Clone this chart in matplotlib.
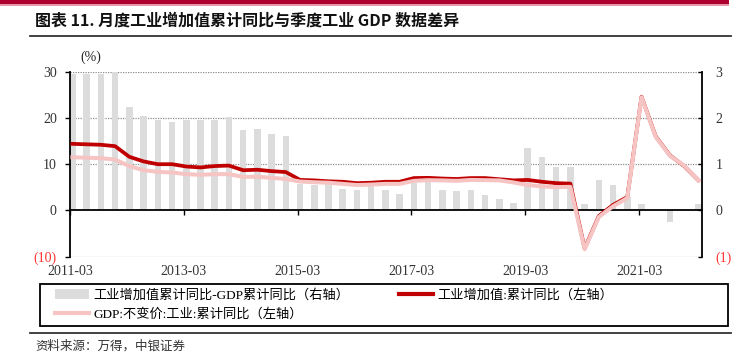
import matplotlib
matplotlib.use('Agg')
import matplotlib.pyplot as plt
import numpy as np
from matplotlib.patches import Rectangle, Patch
from matplotlib.lines import Line2D

# ---------------- data ----------------
quarters = ["2011-03", "2011-06", "2011-09", "2011-12", "2012-03", "2012-06", "2012-09", "2012-12",
            "2013-03", "2013-06", "2013-09", "2013-12", "2014-03", "2014-06", "2014-09", "2014-12",
            "2015-03", "2015-06", "2015-09", "2015-12", "2016-03", "2016-06", "2016-09", "2016-12",
            "2017-03", "2017-06", "2017-09", "2017-12", "2018-03", "2018-06", "2018-09", "2018-12",
            "2019-03", "2019-06", "2019-09", "2019-12", "2020-03", "2020-06", "2020-09", "2020-12",
            "2021-03", "2021-06", "2021-09", "2021-12", "2022-03"]

# 工业增加值累计同比-GDP累计同比（右轴）
diff_right = [2.95, 2.95, 2.95, 3.00, 2.24, 2.04, 1.96, 1.92,
              1.96, 1.96, 1.96, 2.01, 1.75, 1.76, 1.65, 1.61,
              0.58, 0.55, 0.58, 0.46, 0.45, 0.57, 0.45, 0.36,
              0.59, 0.65, 0.45, 0.41, 0.45, 0.34, 0.24, 0.16,
              1.35, 1.15, 0.95, 0.95, 0.15, 0.65, 0.54, 0.30,
              0.15, 0.00, -0.24, 0.00, 0.15]

# 工业增加值:累计同比（左轴）
iva_cum = [14.4, 14.3, 14.2, 13.9, 11.6, 10.6, 10.0, 10.0,
           9.5, 9.3, 9.6, 9.7, 8.7, 8.8, 8.5, 8.3,
           6.6, 6.5, 6.3, 6.2, 5.9, 6.0, 6.2, 6.2,
           7.0, 7.05, 6.9, 6.8, 7.0, 7.0, 6.75, 6.5,
           6.6, 6.2, 5.9, 5.8, -8.2, -1.2, 1.2, 2.9,
           24.6, 16.0, 11.9, 9.6, 6.5]

# GDP:不变价:工业:累计同比（左轴）
gdp_ind_cum = [11.5, 11.4, 11.3, 11.0, 9.6, 8.7, 8.35, 8.2,
               7.85, 7.7, 7.85, 7.85, 7.25, 7.3, 7.05, 6.8,
               6.25, 6.1, 6.0, 5.75, 5.5, 5.6, 5.75, 5.75,
               6.4, 6.55, 6.5, 6.4, 6.6, 6.55, 6.5, 6.05,
               5.5, 5.2, 5.05, 5.1, -8.4, -1.4, 0.9, 2.7,
               24.5, 15.9, 11.8, 9.7, 6.5]

x_tick_labels = ["2011-03", "2013-03", "2015-03", "2017-03", "2019-03", "2021-03"]
left_ticks = [-10, 0, 10, 20, 30]
right_ticks = [-1, 0, 1, 2, 3]

label_bar = "工业增加值累计同比-GDP累计同比（右轴）"
label_red = "工业增加值:累计同比（左轴）"
label_pink = "GDP:不变价:工业:累计同比（左轴）"

# ---------------- style ----------------
SERIF = ['Liberation Serif', 'Noto Sans CJK SC']
CJK = ['Noto Sans CJK SC', 'DejaVu Sans']
plt.rcParams['font.family'] = SERIF
BAR_C = '#DCDCDC'
RED_C = '#C00000'
PINK_C = '#F7C4C4'
TICK_C = '#333333'
NEG_C = '#FF3333'

W, H = 754, 362
fig = plt.figure(figsize=(W / 100, H / 100), dpi=100)

def fx(px):
    return px / W

def fy(py):
    return 1 - py / H

ax_l, ax_r, ax_t, ax_b = 70, 701.7, 71.7, 256.7
ax = fig.add_axes([fx(ax_l), fy(ax_b), fx(ax_r - ax_l), (ax_b - ax_t) / H])
ax2 = ax.twinx()
x = np.arange(len(quarters))
x_off = 0.17

# bars on the primary axes (right scale)
ax.bar(x, diff_right, width=0.46, color=BAR_C, zorder=2)
ax.set_ylim(right_ticks[0], right_ticks[-1])
ax.set_xlim(-x_off, len(quarters) - 1 + 0.23)
ax.yaxis.tick_right()
ax.yaxis.set_label_position('right')
ax.set_yticks(right_ticks)
ax.set_yticklabels([f"({abs(v)})" if v < 0 else f"{v}" for v in right_ticks])
ax.tick_params(axis='y', direction='in', length=3, width=1, pad=10, labelsize=10,
               colors='black')
for lab, v in zip(ax.get_yticklabels(), right_ticks):
    lab.set_color(NEG_C if v < 0 else TICK_C)

# grid (dotted)
for v in right_ticks:
    if v != 0:
        ax.axhline(v, color='#8C8C8C', lw=0.9, ls=(0, (1, 1)), zorder=1)

# x axis at zero
ax.spines['bottom'].set_position(('data', 0))
ax.spines['top'].set_visible(False)
for s in ['bottom', 'left', 'right']:
    ax.spines[s].set_visible(True)
    ax.spines[s].set_linewidth(1.3)
    ax.spines[s].set_color('black')
ax.spines['bottom'].set_zorder(3)
tick_pos = [quarters.index(t) - x_off for t in x_tick_labels]
ax.set_xticks(tick_pos)
ax.set_xticklabels([])
ax.tick_params(axis='x', direction='out', length=3.5, width=1, colors='black')

sec = ax.secondary_xaxis(location=0.0)
sec.set_xticks(tick_pos)
sec.set_xticklabels(x_tick_labels)
sec.tick_params(axis='x', length=0, pad=6, labelsize=10, labelcolor=TICK_C)
sec.spines['bottom'].set_visible(False)

# lines on twin axes (left scale)
ax2.plot(x, iva_cum, color=RED_C, lw=2.7, solid_joinstyle='round', zorder=3)
ax2.plot(x, gdp_ind_cum, color=PINK_C, lw=2.9, solid_joinstyle='round', zorder=4)
ax2.set_ylim(left_ticks[0], left_ticks[-1])
ax2.yaxis.tick_left()
ax2.yaxis.set_label_position('left')
ax2.set_yticks(left_ticks)
ax2.set_yticklabels([f"({abs(v)})" if v < 0 else f"{v}" for v in left_ticks])
ax2.tick_params(axis='y', direction='out', length=3.5, width=1, pad=6, labelsize=10,
                colors='black')
for lab, v in zip(ax2.get_yticklabels(), left_ticks):
    lab.set_color(NEG_C if v < 0 else TICK_C)
for s in ax2.spines.values():
    s.set_visible(False)
ax2.patch.set_visible(False)

fig.text(fx(80), fy(57), "(%)", fontsize=10, color='#222222', va='center', ha='left')

# ---------------- header / footer ----------------
fig.patches.append(Rectangle((0, fy(4.5)), fx(729), 4.5 / H, transform=fig.transFigure,
                             facecolor='#AE0030', edgecolor='none'))
fig.patches.append(Rectangle((0, fy(5.5)), fx(729), 1.0 / H, transform=fig.transFigure,
                             facecolor='#E59AAA', edgecolor='none'))
fig.text(fx(35), fy(21), "图表 11. 月度工业增加值累计同比与季度工业 GDP 数据差异",
         family=CJK, fontsize=11.5, fontweight='bold', va='center', ha='left', color='#111111')
fig.add_artist(Line2D([fx(30), fx(731)], [fy(36), fy(36)], transform=fig.transFigure,
                      color='#333333', lw=1.3))
fig.add_artist(Line2D([fx(30), fx(731)], [fy(333), fy(333)], transform=fig.transFigure,
                      color='#333333', lw=1.3))
fig.text(fx(35), fy(346), "资料来源：万得，中银证券", family=CJK, fontsize=9,
         va='center', ha='left', color='#333333', style='italic')

# ---------------- legend ----------------
fig.patches.append(Rectangle((fx(40), fy(326)), fx(728 - 40), 42 / H, transform=fig.transFigure,
                             facecolor='none', edgecolor='black', lw=1.3))
h_bar = Patch(facecolor=BAR_C, edgecolor='none')
h_red = Line2D([], [], color=RED_C, lw=3)
h_pink = Line2D([], [], color=PINK_C, lw=3)
leg_kw = dict(frameon=False, fontsize=9.5, borderpad=0, borderaxespad=0, handletextpad=0.3,
              handlelength=2.6, labelspacing=0.45, loc='upper left')
fig.legend([h_bar, h_pink], [label_bar, label_pink], bbox_to_anchor=(fx(55), fy(289)), **leg_kw)
fig.legend([h_red], [label_red], bbox_to_anchor=(fx(399), fy(289)), **leg_kw)

fig.savefig('out.png', dpi=100)
